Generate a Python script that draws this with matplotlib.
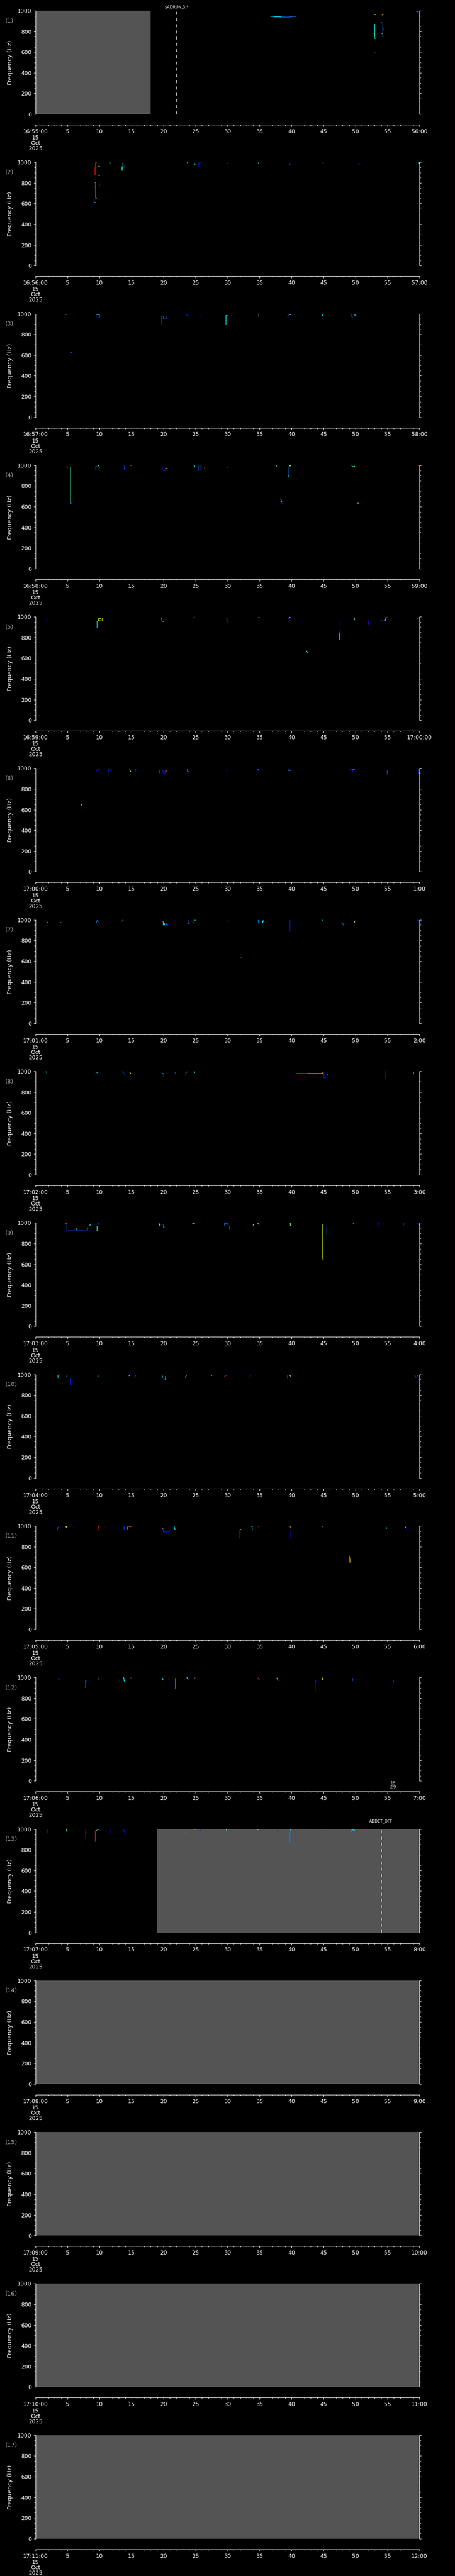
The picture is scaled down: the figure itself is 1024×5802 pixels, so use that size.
import matplotlib
matplotlib.use("Agg")
import matplotlib.pyplot as plt
from matplotlib.ticker import FixedLocator, MultipleLocator, FixedFormatter

plt.rcParams['font.family'] = ['DejaVu Sans']
plt.rcParams['lines.scale_dashes'] = False

W, H = 1024, 5802
N_PANELS = 17
PH = H / N_PANELS

# ---------------- data ----------------
panel_start = ["16:55:00", "16:56:00", "16:57:00", "16:58:00", "16:59:00",
               "17:00:00", "17:01:00", "17:02:00", "17:03:00", "17:04:00",
               "17:05:00", "17:06:00", "17:07:00", "17:08:00", "17:09:00",
               "17:10:00", "17:11:00"]
panel_end = ["56:00", "57:00", "58:00", "59:00", "17:00:00", "1:00", "2:00",
             "3:00", "4:00", "5:00", "6:00", "7:00", "8:00", "9:00", "10:00",
             "11:00", "12:00"]
date_lines = ["15", "Oct", "2025"]
mid_tick_labels = ["5", "10", "15", "20", "25", "30", "35", "40", "45", "50", "55"]
y_tick_values = [0, 200, 400, 600, 800, 1000]

# no-data (gray) intervals, seconds within each minute
gray_panel = [0, 12, 13, 14, 15, 16]
gray_t0 = [0, 19, 0, 0, 0, 0]
gray_t1 = [18, 60, 60, 60, 60, 60]

# event markers: panel, second, label
event_panel = [0, 12]
event_t = [22, 54]
event_label = ["$ADRUN,3,*", "ADDET_OFF"]

# small note in panel 12
note_panel = 11
note_t = 55.9
note_lines = ["16", "2.9"]

# traces: (colour value 0-1 on jet, seconds, frequency Hz)
p01 = [(0.25, [36.7, 37.3, 38.0, 38.7, 39.3, 39.8, 40.3, 40.7], [943, 941, 941, 939, 938, 939, 945, 944]),
       (0.36, [37.2, 37.8, 38.4], [942, 942, 941]),
       (0.36, [52.9, 53.0, 53.0, 53.15], [873, 873, 733, 733]),
       (0.64, [52.95, 53.15], [964, 962]),
       (0.64, [52.9, 53.0], [780, 775]), (0.85, [53.05, 53.15], [770, 770]),
       (0.42, [52.9, 53.1], [594, 594]),
       (0.22, [54.25, 54.25], [880, 750]), (0.5, [54.05, 54.2], [885, 880]),
       (0.22, [54.25, 54.4], [750, 750]), (0.36, [54.3, 54.4], [826, 826]),
       (0.64, [54.1, 54.2], [780, 778]), (0.7, [54.1, 54.3], [963, 963]),
       (0.2, [54.3, 54.45], [963, 968]),
       (0.25, [59.5, 59.7, 59.95], [993, 990, 995])]
p02 = [(0.88, [9.19, 9.19], [954, 876]),
       (0.76, [9.35, 9.35, 9.5], [876, 997, 997]),
       (0.42, [9.2, 9.35, 9.35, 9.5], [808, 808, 654, 654]),
       (0.5, [9.15, 9.2], [769, 754]),
       (0.25, [9.1, 9.3, 9.45], [621, 612, 610]),
       (0.64, [9.8, 10.0], [961, 961]), (0.5, [9.8, 10.0], [871, 871]),
       (0.2, [9.9, 9.9, 10.05], [800, 773, 773]), (0.2, [9.85, 10.05], [647, 647]),
       (0.42, [11.55, 11.7], [997, 990]),
       (0.45, [13.4, 13.5, 13.5, 13.6], [960, 960, 922, 922]), (0.36, [13.6, 13.6], [997, 922]),
       (0.15, [13.65, 13.65], [997, 947]), (0.2, [13.9, 13.9], [965, 947]),
       (0.36, [23.6, 23.75], [997, 997]),
       (0.36, [24.8, 24.9, 24.95], [992, 980, 975]),
       (0.15, [25.45, 25.5, 25.5, 25.75], [961, 961, 997, 997]),
       (0.36, [29.85, 30.0], [988, 988]),
       (0.36, [34.8, 34.9], [995, 985]), (0.2, [39.7, 39.8], [990, 972]),
       (0.36, [44.9, 45.0], [995, 988]), (0.2, [50.5, 50.6], [995, 975]),
       (0.36, [59.85, 60.0], [995, 990])]
p03 = [(0.36, [4.7, 4.8], [998, 990]),
       (0.15, [9.4, 9.45, 9.45], [966, 966, 995]), (0.36, [9.5, 9.95, 9.95], [995, 995, 966]),
       (0.88, [14.6, 14.8], [998, 998]),
       (0.5, [19.7, 19.7], [987, 906]), (0.15, [19.65, 19.7], [895, 906]),
       (0.2, [19.9, 19.9, 20.2, 20.5, 20.5], [982, 950, 950, 950, 982]),
       (0.15, [23.6, 23.65, 23.9, 23.95], [998, 985, 980, 974]),
       (0.15, [25.8, 25.8], [998, 950]),
       (0.36, [29.7, 29.7, 29.9, 29.9], [895, 987, 987, 975]),
       (0.45, [34.8, 34.9, 34.9], [998, 990, 971]),
       (0.2, [39.4, 39.5, 39.8], [966, 985, 992]), (0.64, [39.7, 39.85], [995, 995]),
       (0.36, [44.8, 44.85, 44.9], [998, 985, 978]),
       (0.2, [49.4, 49.45, 49.6], [998, 966, 966]), (0.36, [49.9, 49.95], [998, 975]),
       (0.72, [49.8, 49.9], [998, 998]),
       (0.22, [5.4, 5.7], [627, 627])]
p04 = [(0.36, [4.75, 4.95, 4.95], [987, 987, 976]),
       (0.42, [5.4, 5.4], [987, 636]), (0.36, [5.3, 5.4], [987, 987]),
       (0.2, [5.4, 5.55, 5.55], [636, 636, 628]),
       (0.2, [9.4, 9.4, 9.6], [960, 992, 992]), (0.55, [9.7, 9.9, 9.95], [992, 1000, 973]),
       (0.15, [13.8, 13.9, 14.0], [1000, 970, 947]), (0.36, [13.8, 13.9], [975, 975]),
       (0.88, [14.7, 15.0], [998, 998]),
       (0.15, [19.8, 19.8, 20.0, 20.3, 20.3], [987, 960, 947, 947, 975]), (0.72, [20.3, 20.5], [975, 975]),
       (0.85, [24.7, 24.85], [998, 998]), (0.36, [24.85, 24.9], [998, 980]),
       (0.2, [25.5, 25.5], [1000, 947]), (0.36, [25.8, 25.8], [1000, 947]), (0.72, [26.3, 26.4], [980, 980]),
       (0.64, [29.85, 30.0], [983, 980]),
       (0.5, [37.6, 37.7], [998, 990]), (0.15, [37.8, 37.9], [985, 978]),
       (0.15, [38.3, 38.3], [700, 677]), (0.76, [38.3, 38.4], [677, 660]),
       (0.64, [38.4, 38.5], [650, 645]), (0.15, [38.5, 38.5], [640, 620]),
       (0.25, [39.4, 39.45, 39.45], [984, 984, 898]), (0.36, [39.45, 39.55], [898, 898]),
       (0.5, [39.6, 39.8, 39.9], [985, 1000, 990]),
       (0.36, [49.4, 49.6, 49.9], [998, 985, 990]), (0.5, [49.7, 49.9], [988, 990]),
       (0.72, [50.3, 50.5], [636, 636]),
       (0.85, [59.8, 59.95], [995, 998])]
p05 = [(0.15, [1.75, 1.75, 1.9], [995, 963, 963]),
       (0.36, [9.55, 9.55, 9.6], [895, 963, 963]), (0.6, [9.8, 9.8, 10.2, 10.2], [963, 985, 985, 963]),
       (0.64, [10.4, 10.45, 10.45], [963, 963, 990]), (0.76, [9.9, 10.1], [965, 965]),
       (0.36, [19.7, 19.75, 19.9, 20.1], [985, 963, 955, 955]), (0.15, [20.3, 20.3], [985, 955]),
       (0.45, [24.75, 24.85], [990, 998]),
       (0.64, [29.8, 29.85], [990, 990]), (0.15, [29.95, 29.95], [984, 943]),
       (0.76, [34.8, 34.9], [990, 995]), (0.15, [34.9, 35.1], [998, 998]),
       (0.15, [39.4, 39.55, 39.6], [963, 985, 990]), (0.64, [39.7, 39.8], [990, 998]),
       (0.45, [42.35, 42.45, 42.5], [672, 660, 653]),
       (0.15, [47.6, 47.6], [968, 898]), (0.25, [47.6, 47.6], [882, 785]),
       (0.76, [47.5, 47.5, 47.55], [845, 785, 777]), (0.76, [47.4, 47.55], [845, 845]),
       (0.45, [49.8, 49.85, 49.9], [995, 972, 968]),
       (0.15, [52.0, 52.0], [968, 926]),
       (0.2, [54.0, 54.1, 54.3, 54.5, 54.55], [968, 960, 960, 960, 970]),
       (0.45, [54.7, 54.75, 54.85], [960, 990, 995]), (0.76, [54.85, 54.95], [995, 995]),
       (0.55, [59.6, 59.8, 59.85], [990, 985, 995])]
p06 = [(0.15, [9.4, 9.6], [966, 985]), (0.76, [9.7, 9.9], [990, 995]),
       (0.15, [11.4, 11.4, 11.6, 11.8, 11.8], [958, 990, 995, 980, 958]),
       (0.6, [14.7, 14.8, 14.9], [990, 975, 968]), (0.2, [15.5, 15.6, 15.7], [966, 980, 995]),
       (0.2, [19.4, 19.4], [990, 958]), (0.45, [19.35, 19.45], [958, 958]),
       (0.15, [19.9, 19.95, 20.0, 20.2, 20.25], [985, 960, 945, 945, 985]), (0.76, [20.25, 20.5], [977, 977]),
       (0.25, [23.7, 23.75, 23.9, 24.0], [995, 970, 970, 970]),
       (0.2, [29.85, 29.85], [995, 968]),
       (0.6, [34.7, 34.75], [995, 990]), (0.2, [34.8, 34.85], [995, 977]),
       (0.2, [39.5, 39.6, 39.7], [974, 995, 990]), (0.64, [39.7, 39.8], [985, 977]),
       (0.15, [49.0, 49.5, 49.5], [995, 995, 966]), (0.76, [49.6, 49.9], [985, 995]),
       (0.2, [54.9, 54.9], [984, 942]),
       (0.76, [59.75, 59.85], [998, 998]), (0.2, [59.85, 59.9, 60.0], [998, 955, 950]),
       (0.64, [7.1, 7.15, 7.2], [659, 650, 643]), (0.36, [7.05, 7.25], [618, 618])]
p07 = [(0.2, [1.75, 1.8], [998, 985]), (0.5, [1.85, 1.95], [978, 975]),
       (0.64, [3.9, 4.0], [974, 972]),
       (0.25, [9.45, 9.6, 9.7], [970, 990, 998]), (0.36, [9.7, 9.9], [990, 985]),
       (0.15, [13.4, 13.5], [975, 995]), (0.36, [13.55, 13.7], [998, 998]),
       (0.78, [19.7, 19.85], [987, 987]), (0.36, [19.95, 19.95, 20.15, 20.15], [987, 950, 950, 970]),
       (0.2, [20.4, 20.4, 20.7], [970, 950, 950]),
       (0.2, [23.8, 23.8], [998, 975]), (0.5, [23.85, 24.0], [970, 970]),
       (0.85, [24.5, 24.6], [970, 975]), (0.2, [24.6, 24.7, 24.7], [975, 975, 998]),
       (0.36, [24.8, 25.0], [998, 998]),
       (0.6, [29.85, 30.0], [990, 990]),
       (0.25, [34.7, 34.8, 34.8], [998, 998, 970]), (0.15, [34.9, 34.9], [998, 970]),
       (0.36, [35.4, 35.45, 35.45, 35.7], [998, 998, 970, 998]),
       (0.36, [39.6, 39.8], [990, 990]), (0.15, [39.7, 39.7], [990, 887]),
       (0.36, [44.8, 44.9], [998, 995]),
       (0.36, [48.0, 48.05], [965, 960]), (0.2, [48.05, 48.1], [960, 945]),
       (0.6, [49.8, 49.85, 49.9], [990, 985, 975]), (0.15, [50.0, 50.05], [960, 945]),
       (0.2, [59.8, 59.85, 59.9], [960, 985, 998]), (0.36, [59.75, 59.8], [995, 998]),
       (0.36, [31.9, 32.2], [643, 643])]
p08 = [(0.36, [1.55, 1.7, 1.75], [995, 995, 985]),
       (0.45, [9.4, 9.5], [975, 990]), (0.36, [9.6, 9.75], [990, 985]), (0.15, [9.85, 10.0], [985, 975]),
       (0.45, [13.6, 13.65], [998, 990]), (0.15, [13.7, 13.9, 13.95], [990, 975, 960]),
       (0.64, [14.7, 14.9], [990, 980]),
       (0.36, [19.8, 19.9], [985, 985]), (0.15, [19.95, 20.0], [985, 948]),
       (0.2, [21.8, 21.85, 22.0], [995, 980, 975]), (0.36, [21.9, 22.0], [980, 975]),
       (0.15, [23.4, 23.4], [995, 960]), (0.64, [23.5, 23.8], [997, 997]), (0.36, [23.45, 23.55], [995, 990]),
       (0.36, [24.75, 24.85, 24.9], [997, 997, 985]),
       (0.85, [40.7, 41.5, 42.4], [979, 980, 978]), (0.7, [42.4, 43.5, 44.8], [978, 979, 979]),
       (0.5, [42.6, 42.9], [978, 977]), (0.64, [44.8, 44.9, 45.0], [979, 985, 995]),
       (0.15, [45.05, 45.1, 45.4], [995, 938, 938]), (0.5, [45.5, 45.6], [975, 975]),
       (0.85, [54.7, 54.8], [995, 998]), (0.2, [54.7, 54.7], [995, 930]),
       (0.55, [59.0, 59.0], [995, 975])]
p09 = [(0.76, [4.75, 4.8], [997, 990]),
       (0.2, [4.85, 4.85, 8.1, 8.1], [992, 932, 932, 960]), (0.36, [6.35, 6.35], [952, 932]),
       (0.36, [8.45, 8.6], [970, 990]), (0.2, [8.6, 8.7], [990, 998]),
       (0.45, [9.55, 9.55], [971, 919]), (0.85, [9.45, 9.6], [971, 971]), (0.2, [9.8, 9.8], [1000, 985]),
       (0.55, [19.3, 19.35], [997, 970]), (0.64, [19.4, 19.5], [990, 975]),
       (0.2, [19.6, 19.9, 19.9, 20.6], [990, 990, 955, 955]), (0.36, [20.0, 20.1], [970, 955]),
       (0.45, [24.5, 24.9], [997, 992]),
       (0.25, [29.5, 29.5, 29.7, 29.9, 29.9], [970, 997, 997, 997, 985]),
       (0.2, [30.2, 30.3, 30.3], [968, 968, 940]),
       (0.64, [34.0, 34.1], [975, 990]), (0.2, [34.1, 34.1], [990, 945]),
       (0.64, [34.75, 34.85], [997, 985]), (0.15, [34.9, 35.0], [997, 970]),
       (0.55, [39.8, 39.85], [997, 970]),
       (0.62, [44.85, 44.85], [987, 648]), (0.36, [44.85, 45.0], [650, 650]),
       (0.25, [45.5, 45.5], [968, 890]),
       (0.8, [49.6, 49.8], [995, 990]),
       (0.15, [53.5, 53.6], [970, 997]),
       (0.15, [57.5, 57.6], [970, 997]),
       (0.72, [59.75, 59.85], [995, 990]), (0.2, [59.9, 60.0], [990, 975])]
p10 = [(0.36, [3.5, 3.5], [995, 970]),
       (0.36, [4.8, 4.95], [985, 985]),
       (0.15, [5.5, 5.5, 5.6], [969, 900, 900]),
       (0.36, [9.8, 9.95], [985, 985]),
       (0.2, [14.45, 14.5, 14.9], [970, 990, 995]), (0.64, [14.6, 14.7], [990, 990]),
       (0.36, [15.5, 15.6], [970, 995]),
       (0.36, [19.8, 19.8], [990, 968]), (0.2, [19.9, 20.2], [950, 950]), (0.5, [20.3, 20.3], [950, 985]),
       (0.5, [23.4, 23.6], [970, 995]),
       (0.36, [27.5, 27.55], [995, 985]),
       (0.85, [29.5, 29.6], [980, 985]), (0.2, [29.7, 29.9], [990, 985]),
       (0.2, [33.5, 33.6], [970, 995]),
       (0.2, [39.35, 39.4, 39.6], [965, 995, 995]), (0.5, [39.7, 39.9], [995, 980]),
       (0.36, [59.3, 59.35], [995, 970]), (0.2, [59.5, 59.8, 60.0], [970, 995, 990])]
p11 = [(0.2, [3.35, 3.5, 3.65], [961, 985, 994]),
       (0.64, [4.7, 4.8, 4.85], [990, 994, 985]),
       (0.88, [9.75, 9.85, 9.85, 10.0], [994, 994, 961, 961]),
       (0.15, [13.7, 13.7, 13.8, 13.8, 13.95, 13.95], [967, 994, 994, 967, 967, 994]),
       (0.45, [14.35, 14.35], [994, 968]), (0.85, [14.5, 14.9], [997, 997]), (0.15, [14.9, 15.3], [998, 998]),
       (0.64, [19.8, 19.9], [980, 980]), (0.15, [19.95, 19.95, 20.7, 20.9, 21.0], [980, 942, 942, 950, 960]),
       (0.36, [21.7, 21.7, 21.9], [994, 972, 970]),
       (0.15, [31.8, 31.8], [971, 880]), (0.5, [31.95, 32.05], [971, 971]),
       (0.36, [33.7, 33.8, 33.8, 33.95], [994, 994, 965, 965]),
       (0.88, [34.8, 34.9], [994, 990]),
       (0.76, [39.75, 39.9], [994, 986]), (0.15, [39.85, 39.85], [961, 886]),
       (0.85, [44.75, 44.85], [990, 994]), (0.45, [44.85, 44.95], [994, 994]),
       (0.36, [49.05, 49.05], [711, 690]), (0.7, [49.1, 49.1], [690, 647]), (0.25, [49.2, 49.3], [650, 660]),
       (0.42, [54.8, 54.85, 54.9], [990, 980, 975]),
       (0.36, [57.8, 57.85], [994, 980]), (0.15, [57.9, 58.0], [975, 970])]
p12 = [(0.15, [3.55, 3.65, 3.75], [971, 994, 971]),
       (0.2, [7.75, 7.8, 7.8, 8.0], [899, 915, 967, 967]),
       (0.88, [9.7, 9.8], [998, 995]), (0.5, [9.9, 9.95], [995, 971]),
       (0.36, [13.7, 13.8, 13.85, 14.0], [998, 998, 965, 965]),
       (0.88, [14.8, 14.9], [998, 998]),
       (0.36, [19.8, 19.85, 19.95], [998, 985, 975]), (0.15, [20.0, 20.1], [960, 943]),
       (0.25, [21.8, 21.8], [998, 894]),
       (0.36, [23.6, 23.7, 23.8], [998, 998, 985]), (0.2, [23.85, 23.9], [985, 971]),
       (0.82, [24.8, 24.95], [998, 998]),
       (0.85, [34.7, 34.85], [998, 998]), (0.36, [34.9, 34.95], [990, 975]),
       (0.36, [37.7, 37.8, 37.85, 38.0], [998, 985, 975, 972]),
       (0.15, [43.7, 43.7, 43.9], [872, 967, 967]),
       (0.6, [44.8, 44.85, 44.9], [998, 990, 975]),
       (0.2, [49.5, 49.5], [998, 967]),
       (0.15, [55.8, 55.8], [998, 899]), (0.25, [55.85, 55.95], [967, 967])]
p13 = [(0.15, [1.7, 1.8, 1.8], [1000, 1000, 965]),
       (0.42, [4.8, 4.85, 4.85], [998, 995, 975]),
       (0.15, [7.75, 7.75], [1000, 914]), (0.25, [7.8, 7.95], [970, 970]),
       (0.88, [9.3, 9.3], [982, 877]), (0.5, [9.4, 9.5], [980, 990]),
       (0.36, [9.6, 9.9], [993, 995]), (0.64, [9.45, 9.55], [985, 985]),
       (0.15, [11.7, 11.75, 11.75], [1000, 1000, 965]),
       (0.15, [13.6, 13.8, 13.95, 14.0], [1000, 990, 960, 925]),
       (0.2, [23.45, 23.45], [1000, 975]), (0.64, [23.4, 23.5], [972, 972]),
       (0.64, [24.8, 24.95], [998, 998]),
       (0.15, [25.8, 25.85, 25.9], [1000, 985, 982]),
       (0.45, [29.8, 29.85, 29.9], [1000, 990, 975]),
       (0.6, [34.7, 34.8], [995, 990]), (0.2, [34.8, 34.85], [998, 995]),
       (0.15, [37.8, 37.85, 37.95], [1000, 985, 975]),
       (0.36, [39.85, 39.9], [995, 980]), (0.25, [39.75, 39.75], [975, 868]),
       (0.15, [44.85, 44.95], [998, 998]),
       (0.36, [49.4, 49.5, 49.6, 49.9], [975, 1000, 990, 985]), (0.2, [49.5, 49.55], [985, 970])]
panel_traces = [p01, p02, p03, p04, p05, p06, p07, p08, p09, p10, p11, p12, p13, [], [], [], []]

# ---------------- drawing ----------------
BG = "black"
FG = "white"
GRAY = "#545454"
LABEL_GRAY = "#a8a8a8"
cmap = plt.get_cmap("jet")
PT = 72.0 / 100.0  # points per pixel
LW = 0.75          # ~1 px

fig = plt.figure(figsize=(W / 100, H / 100), dpi=100, facecolor=BG)

AX_L, AX_W, AX_TOP, AX_H = 80, 864, 24, 233


def fx(px):
    return px / W


def fy(py):
    return 1 - py / H


def t2px(t):
    return AX_L + t / 60.0 * AX_W


for k in range(N_PANELS):
    y0 = k * PH
    ax = fig.add_axes([fx(AX_L), fy(y0 + AX_TOP + AX_H), AX_W / W, AX_H / H])
    ax.set_facecolor(BG)
    ax.set_xlim(0, 60)
    ax.set_ylim(0, 1000)
    ax.spines["top"].set_visible(False)
    for s in ["left", "right", "bottom"]:
        ax.spines[s].set_color(FG)
        ax.spines[s].set_linewidth(LW)
    ax.spines["bottom"].set_position(("outward", 24 * PT))

    ax.xaxis.set_major_locator(FixedLocator(list(range(0, 61, 5))))
    ax.xaxis.set_minor_locator(MultipleLocator(1))
    ax.xaxis.set_major_formatter(FixedFormatter([panel_start[k]] + mid_tick_labels + [panel_end[k]]))
    ax.yaxis.set_major_locator(FixedLocator(y_tick_values))
    ax.yaxis.set_minor_locator(MultipleLocator(50))
    ax.yaxis.set_ticks_position("both")
    ax.tick_params(axis="x", which="major", direction="out", length=4 * PT, width=LW,
                   colors=FG, labelsize=9, pad=3.5)
    ax.tick_params(axis="x", which="minor", direction="out", length=2.5 * PT, width=LW, colors=FG)
    ax.tick_params(axis="y", which="major", direction="out", length=4.3 * PT, width=LW,
                   colors=FG, labelsize=9, pad=3.5, labelright=False)
    ax.tick_params(axis="y", which="minor", direction="out", length=3 * PT, width=LW, colors=FG)

    # no-data shading
    for gp, a, b in zip(gray_panel, gray_t0, gray_t1):
        if gp == k:
            ax.axvspan(a, b, color=GRAY, lw=0, zorder=0)

    # traces
    for c, ts, fs in panel_traces[k]:
        ax.plot(ts, fs, color=cmap(c), lw=1.0, solid_capstyle="butt", zorder=3)

    # event markers
    for ep, et, el in zip(event_panel, event_t, event_label):
        if ep == k:
            ax.axvline(et, color=FG, lw=LW, ls=(0, (4.8, 5.3)), zorder=4)
            dy = 15.6 if k == 0 else 6.4
            fig.text(fx(t2px(et)), fy(y0 + dy), el, color=FG, fontsize=6.5,
                     ha="center", va="center")

    if k == note_panel:
        for i, line in enumerate(note_lines):
            fig.text(fx(t2px(note_t)), fy(y0 + 262.5 + 9 * i), line, color=FG,
                     fontsize=6.5, ha="center", va="center")

    # date lines under the start label
    for i, line in enumerate(date_lines):
        fig.text(fx(AX_L), fy(y0 + 310.7 + 12 * i), line, color=FG, fontsize=9,
                 ha="center", va="center")

    # axis label and panel number
    fig.text(fx(22.7), fy(y0 + 140.8), "Frequency (Hz)", color=FG, fontsize=9.5,
             rotation=90, ha="center", va="center")
    fig.text(fx(11.7), fy(y0 + 47), "(%d)" % (k + 1), color=LABEL_GRAY, fontsize=9.5,
             ha="left", va="center")

fig.savefig("out.png", dpi=100, facecolor=BG)
